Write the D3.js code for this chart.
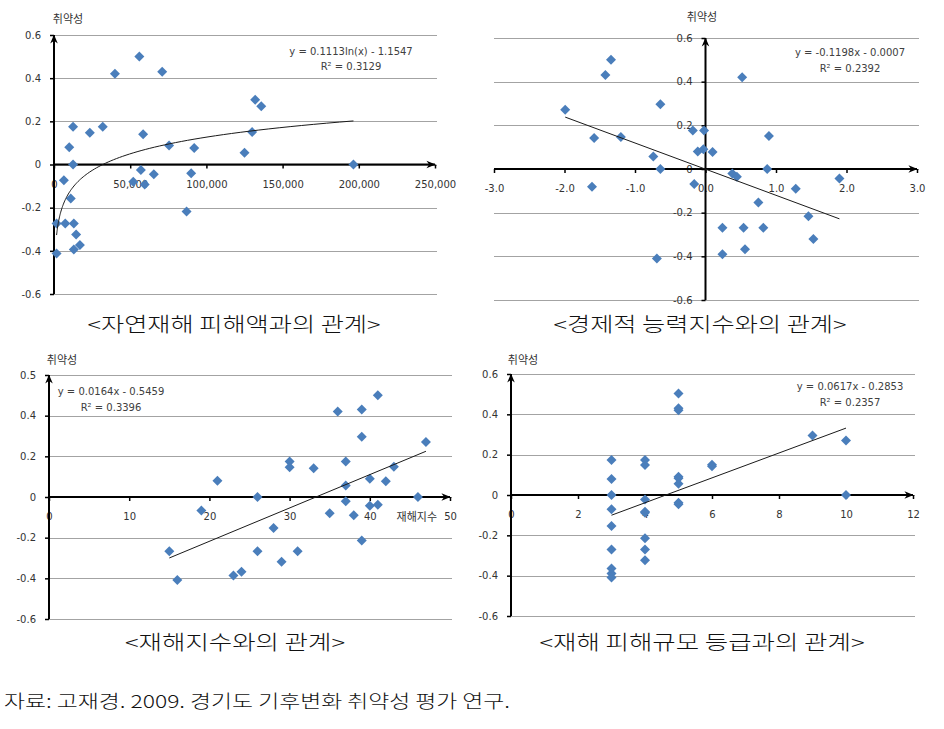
<!DOCTYPE html>
<html><head><meta charset="utf-8">
<script src="https://cdn.jsdelivr.net/npm/d3@7"></script>
<style>body{margin:0;background:#fff} svg{display:block}</style>
</head><body><svg id="c" width="944" height="729"></svg>
<script>
// ---------- data ----------
// Panel 1: 자연재해 피해액 vs 취약성
const p1Damage = [56000, 40000, 71000, 132000, 136000, 12500, 32000, 23500, 58500, 130000, 10000, 75500, 92000, 125000, 12500, 196500, 57000, 65500, 90000, 6500, 52000, 59500, 11000, 87000, 1700, 7400, 13000, 14500, 13000, 17000, 1700];
const p1Vuln = [0.50, 0.42, 0.43, 0.30, 0.27, 0.175, 0.175, 0.147, 0.14, 0.15, 0.08, 0.088, 0.076, 0.054, 0, 0, -0.026, -0.045, -0.04, -0.073, -0.08, -0.093, -0.157, -0.218, -0.273, -0.273, -0.273, -0.324, -0.394, -0.373, -0.412];
const p1XTicks = [0, 50000, 100000, 150000, 200000, 250000];
const p1XLabels = ["0", "50,000", "100,000", "150,000", "200,000", "250,000"];
const p1Trend = {a: 0.1113, b: -1.1547}; // y = a ln(x) + b
const p1Eq = ["y = 0.1113ln(x) - 1.1547", "R² = 0.3129"];

// Panel 2: 경제적 능력지수 vs 취약성
const p2Econ = [-1.34, -1.42, 0.52, -0.64, -1.99, -0.18, -0.02, -1.58, -1.20, 0.90, -0.11, -0.03, 0.10, -0.74, -0.64, 0.875, 0.38, 0.445, -0.16, -1.61, 1.28, 1.90, 0.75, 1.46, 0.24, 0.54, 0.82, 1.53, 0.56, 0.24, -0.69];
const p2Vuln = [0.50, 0.43, 0.42, 0.297, 0.271, 0.176, 0.176, 0.142, 0.147, 0.151, 0.080, 0.090, 0.078, 0.057, 0, 0, -0.021, -0.035, -0.069, -0.081, -0.09, -0.043, -0.153, -0.216, -0.269, -0.269, -0.269, -0.321, -0.367, -0.39, -0.41];
const p2XTicks = [-3, -2, -1, 0, 1, 2, 3];
const p2XLabels = ["-3.0", "-2.0", "-1.0", "0.0", "1.0", "2.0", "3.0"];
const p2Trend = {a: -0.1198, b: -0.0007};
const p2Eq = ["y = -0.1198x - 0.0007", "R² = 0.2392"];

// Panel 3: 재해지수 vs 취약성
const p3Index = [41, 36, 39, 39, 47, 30, 37, 30, 33, 43, 21, 40, 42, 37, 26, 46, 37, 40, 41, 19, 35, 38, 28, 39, 15, 26, 31, 29, 23, 24, 16];
const p3Vuln = [0.50, 0.42, 0.43, 0.296, 0.27, 0.175, 0.175, 0.146, 0.141, 0.149, 0.08, 0.09, 0.077, 0.056, 0, 0, -0.021, -0.043, -0.038, -0.067, -0.08, -0.09, -0.152, -0.214, -0.267, -0.267, -0.267, -0.319, -0.386, -0.368, -0.408];
const p3XTicks = [0, 10, 20, 30, 40, 50];
const p3XLabels = ["0", "10", "20", "30", "40", "50"];
const p3Trend = {a: 0.0164, b: -0.5459};
const p3Eq = ["y = 0.0164x - 0.5459", "R² = 0.3396"];

// Panel 4: 재해 피해규모 등급 vs 취약성
const p4Grade = [3, 3, 3, 3, 3, 3, 3, 3, 3, 4, 4, 4, 4, 4, 4, 4, 4, 5, 5, 5, 5, 5, 5, 5, 5, 6, 6, 9, 10, 10];
const p4Vuln = [0.174, 0.079, 0, -0.071, -0.154, -0.27, -0.364, -0.389, -0.409, 0.174, 0.149, -0.022, -0.083, -0.088, -0.215, -0.27, -0.323, 0.503, 0.43, 0.42, 0.091, 0.083, 0.056, -0.038, -0.046, 0.15, 0.142, 0.295, 0.27, 0];
const p4XTicks = [0, 2, 4, 6, 8, 10, 12];
const p4XLabels = ["0", "2", "4", "6", "8", "10", "12"];
const p4Trend = {a: 0.0617, b: -0.2853};
const p4Eq = ["y = 0.0617x - 0.2853", "R² = 0.2357"];

const yTicks = [-0.6, -0.4, -0.2, 0, 0.2, 0.4, 0.6];
const yLabelsStd = ["-0.6", "-0.4", "-0.2", "0", "0.2", "0.4", "0.6"];
const yLabelsP3 = ["-0.6", "-0.4", "-0.2", "0", "0.2", "0.4", "0.5"];

const yTitle = "취약성";
const captions = ["<자연재해 피해액과의 관계>", "<경제적 능력지수와의 관계>", "<재해지수와의 관계>", "<재해 피해규모 등급과의 관계>"];
const source = "자료: 고재경. 2009. 경기도 기후변화 취약성 평가 연구.";

// ---------- drawing ----------
const svg = d3.select("#c");
const defs = svg.append("defs");
defs.append("marker").attr("id", "arr").attr("viewBox", "0 0 10 10")
  .attr("refX", 9.5).attr("refY", 5).attr("markerWidth", 9).attr("markerHeight", 9)
  .attr("markerUnits", "userSpaceOnUse").attr("orient", "auto")
  .append("path").attr("d", "M0,0.8 L10,5 L0,9.2 L3,5 Z").attr("fill", "#000");

const AX_FONT = "DejaVu Sans, Verdana, sans-serif";
const KR_FONT = "'Noto Sans CJK KR', 'Noto Sans', sans-serif";
const diamond = d3.symbol().type(d3.symbolSquare).size(50);

function drawPanel(o) {
  const g = svg.append("g");
  const x = d3.scaleLinear().domain(o.xDomain).range(o.xRange);
  const y = d3.scaleLinear().domain([-0.6, 0.6]).range(o.yRange);
  const x0 = x(0), y0 = y(0);

  // gridlines
  g.append("g").selectAll("line").data(yTicks).join("line")
    .attr("x1", o.xRange[0]).attr("x2", o.xRange[1] + 2)
    .attr("y1", d => Math.round(y(d)) + 0.5).attr("y2", d => Math.round(y(d)) + 0.5)
    .attr("stroke", "#a3a3a3").attr("stroke-width", 1);

  // x axis ticks + labels
  const xa = g.append("g").attr("transform", `translate(0,${y0})`)
    .call(d3.axisBottom(x).tickValues(o.xTicks).tickFormat((d, i) => o.xLabels[i])
      .tickSizeInner(4).tickSizeOuter(0).tickPadding(12));
  xa.select(".domain").remove();
  xa.selectAll("line").attr("stroke", "#000").attr("stroke-width", 1.5);
  xa.selectAll("text").attr("font-family", AX_FONT).attr("font-size", 10).attr("fill", "#333");

  // y axis ticks + labels
  const ya = g.append("g").attr("transform", `translate(${x0},0)`)
    .call(d3.axisLeft(y).tickValues(yTicks).tickFormat((d, i) => o.yLabels[i])
      .tickSizeInner(4).tickSizeOuter(0).tickPadding(9));
  ya.select(".domain").remove();
  ya.selectAll("line").attr("stroke", "#000").attr("stroke-width", 1.5);
  ya.selectAll("text").attr("font-family", AX_FONT).attr("font-size", 10).attr("fill", "#333");

  // axis lines with arrows
  g.append("line").attr("x1", o.xRange[0]).attr("x2", o.xRange[1])
    .attr("y1", y0).attr("y2", y0).attr("stroke", "#000").attr("stroke-width", 2)
    .attr("marker-end", "url(#arr)");
  g.append("line").attr("x1", x0).attr("x2", x0)
    .attr("y1", y(-0.6)).attr("y2", y(0.6)).attr("stroke", "#000").attr("stroke-width", 2)
    .attr("marker-end", "url(#arr)");

  if (o.xTitle) {
    g.append("text").attr("x", o.xTitle.x).attr("y", o.xTitle.y).attr("text-anchor", "end")
      .attr("dominant-baseline", "middle").attr("font-family", KR_FONT).attr("font-size", 11)
      .attr("fill", "#333").text(o.xTitle.text);
  }

  // y title
  g.append("text").attr("x", o.yTitlePos[0]).attr("y", o.yTitlePos[1]).attr("text-anchor", "middle")
    .attr("dominant-baseline", "middle").attr("font-family", KR_FONT).attr("font-size", 11)
    .attr("fill", "#333").text(yTitle);

  // markers
  const pts = o.xs.map((v, i) => [v, o.ys[i]]);
  g.append("g").selectAll("path").data(pts).join("path")
    .attr("d", diamond)
    .attr("transform", d => `translate(${x(d[0])},${y(d[1])}) rotate(45)`)
    .attr("fill", "#4a7ebb");

  // trend line
  const [xmin, xmax] = d3.extent(o.xs);
  let tpts;
  if (o.log) {
    tpts = d3.range(0, 101).map(k => {
      const xv = xmin * Math.pow(xmax / xmin, k / 100);
      return [xv, o.trend.a * Math.log(xv) + o.trend.b];
    });
  } else {
    tpts = [xmin, xmax].map(xv => [xv, o.trend.a * xv + o.trend.b]);
  }
  g.append("path").attr("d", d3.line().x(d => x(d[0])).y(d => y(d[1]))(tpts))
    .attr("fill", "none").attr("stroke", "#1a1a1a").attr("stroke-width", 1);

  // equation
  o.eq.forEach((t, i) => {
    g.append("text").attr("x", o.eqPos[0]).attr("y", o.eqPos[1] + i * 15.5)
      .attr("text-anchor", "middle").attr("dominant-baseline", "middle")
      .attr("font-family", AX_FONT).attr("font-size", 10).attr("fill", "#404040").text(t);
  });
}

drawPanel({xs: p1Damage, ys: p1Vuln, xDomain: [0, 250000], xRange: [54, 435], yRange: [294, 35],
  xTicks: p1XTicks, xLabels: p1XLabels, yLabels: yLabelsStd, trend: p1Trend, log: true,
  eq: p1Eq, eqPos: [351, 51.5], yTitlePos: [68, 20]});

drawPanel({xs: p2Econ, ys: p2Vuln, xDomain: [-3, 3], xRange: [494, 917], yRange: [300, 38],
  xTicks: p2XTicks, xLabels: p2XLabels, yLabels: yLabelsStd, trend: p2Trend,
  eq: p2Eq, eqPos: [850, 53], yTitlePos: [702, 18]});

drawPanel({xs: p3Index, ys: p3Vuln, xDomain: [0, 50], xRange: [49, 450], yRange: [619, 375],
  xTicks: p3XTicks, xLabels: p3XLabels, yLabels: yLabelsP3, trend: p3Trend,
  eq: p3Eq, eqPos: [111, 392], yTitlePos: [62, 361],
  xTitle: {text: "재해지수", x: 437, y: 518}});

drawPanel({xs: p4Grade, ys: p4Vuln, xDomain: [0, 12], xRange: [511, 913], yRange: [616, 374],
  xTicks: p4XTicks, xLabels: p4XLabels, yLabels: yLabelsStd, trend: p4Trend,
  eq: p4Eq, eqPos: [850, 387], yTitlePos: [523, 361]});

// captions
const capPos = [[234, 327, 293], [700, 327, 293], [235, 645, 220], [702, 645, 325]];
captions.forEach((t, i) => {
  svg.append("text").attr("x", capPos[i][0]).attr("y", capPos[i][1])
    .attr("text-anchor", "middle").attr("dominant-baseline", "middle")
    .attr("font-family", KR_FONT).attr("font-size", 20).attr("font-weight", 300)
    .attr("fill", "#111").attr("textLength", capPos[i][2]).attr("lengthAdjust", "spacingAndGlyphs")
    .text(t);
});
svg.append("text").attr("x", 4).attr("y", 703).attr("dominant-baseline", "middle")
  .attr("font-family", KR_FONT).attr("font-size", 18).attr("font-weight", 300)
  .attr("fill", "#111").attr("textLength", 506).attr("lengthAdjust", "spacingAndGlyphs")
  .text(source);
</script></body></html>
